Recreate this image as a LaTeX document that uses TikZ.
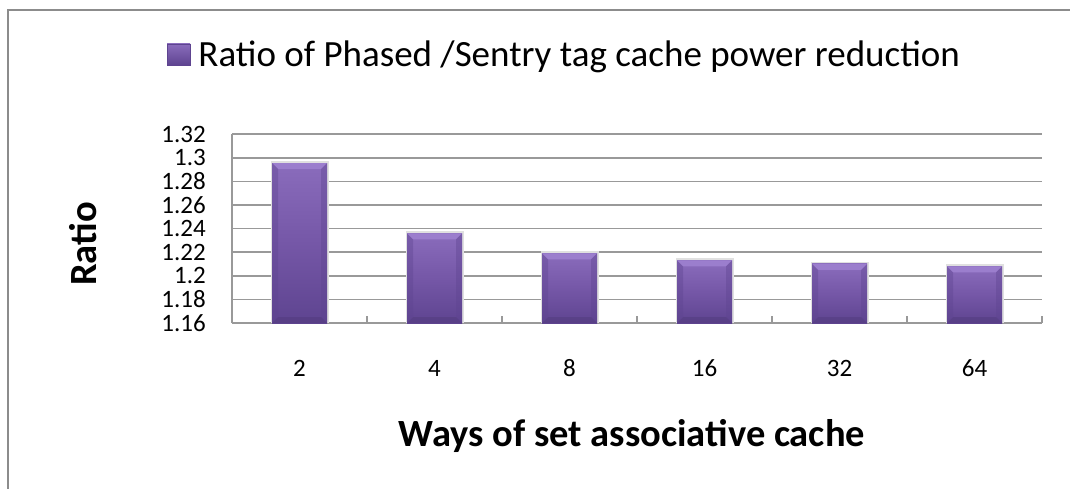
\documentclass[tikz,border=0pt]{standalone}
\usepackage{fontspec}
\setmainfont{Carlito}
\usetikzlibrary{positioning}

\definecolor{framegray}{HTML}{8C8C8C}
\definecolor{gridgray}{HTML}{999999}
\definecolor{barhi}{HTML}{8A6CBC}
\definecolor{barmid}{HTML}{7557A7}
\definecolor{barlo}{HTML}{5E4490}
\definecolor{barbevel}{HTML}{A487D6}

\tikzset{
  ticklabel/.style={font=\fontsize{25}{25}\selectfont, inner sep=0pt},
  axistitle/.style={font=\fontsize{38.5}{38.5}\selectfont\bfseries, inner sep=0pt},
  legendtext/.style={font=\fontsize{37}{37}\selectfont, inner sep=0pt},
  gridline/.style={draw=gridgray, line width=1.5pt},
  legendbox/.style={draw=barlo, line width=0.5pt, top color=barhi, bottom color=barlo,
    minimum width=23pt, minimum height=21pt, inner sep=0pt}
}

\begin{document}
\begin{tikzpicture}[x=1pt,y=-1pt]
\useasboundingbox (0,0) rectangle (1070,489);
% chart area frame (only left and top edges are visible)
\draw[framegray, line width=2pt] (8,489) -- (8,10) -- (1070,10);

% legend
\node[legendbox] (legbox) at (178.5,54.5) {};
\node[legendtext, anchor=base west] (legtext) at ([xshift=8pt,yshift=-1pt]legbox.south east)
  {Ratio of Phased /Sentry tag cache power reduction};

% gridlines and value labels
\foreach \i/\lab in {0/1.16,1/1.18,2/1.2,3/1.22,4/1.24,5/1.26,6/1.28,7/1.3,8/1.32}
{
  \draw[gridline] (232,323-23.6*\i) -- (1042,323-23.6*\i);
  \node[ticklabel, anchor=east] (ylab\i) at (206,323-23.6*\i) {\lab};
}
\draw[gridline] (232,134.2) -- (232,323);
\foreach \k in {0,...,6}
  \draw[gridline] (232+135*\k,323) -- (232+135*\k,316);

% bars
\foreach \v/\lab [count=\k from 0] in {1.2956/2,1.236/4,1.219/8,1.213/16,1.210/32,1.208/64}
{
  \pgfmathsetmacro\cx{299.5+135*\k}
  \pgfmathsetmacro\bartop{323-(\v-1.16)*1180}
  \fill[black!12] (\cx-29,\bartop-2) rectangle (\cx+29,323);
  \shade[top color=barhi, bottom color=barlo, middle color=barmid]
    (\cx-27.5,\bartop) rectangle (\cx+27.5,323);
  \fill[barbevel, opacity=0.7] (\cx-27.5,\bartop) -- (\cx+27.5,\bartop) -- (\cx+21.5,\bartop+6) -- (\cx-21.5,\bartop+6) -- cycle;
  \fill[barlo!80!black, opacity=0.35] (\cx-27.5,323) -- (\cx+27.5,323) -- (\cx+21.5,317) -- (\cx-21.5,317) -- cycle;
  \fill[barlo, opacity=0.4] (\cx-27.5,\bartop) -- (\cx-21.5,\bartop+6) -- (\cx-21.5,317) -- (\cx-27.5,323) -- cycle;
  \fill[barlo, opacity=0.4] (\cx+27.5,\bartop) -- (\cx+21.5,\bartop+6) -- (\cx+21.5,317) -- (\cx+27.5,323) -- cycle;
  \node[ticklabel, anchor=base] (xlab\k) at (\cx,376) {\lab};
}

% axis titles
\node[axistitle, rotate=90, anchor=base] (ytitle) at (96,244) {Ratio};
\node[axistitle, anchor=base] (xtitle) at (632,446) {Ways of set associative cache};
\end{tikzpicture}
\end{document}
